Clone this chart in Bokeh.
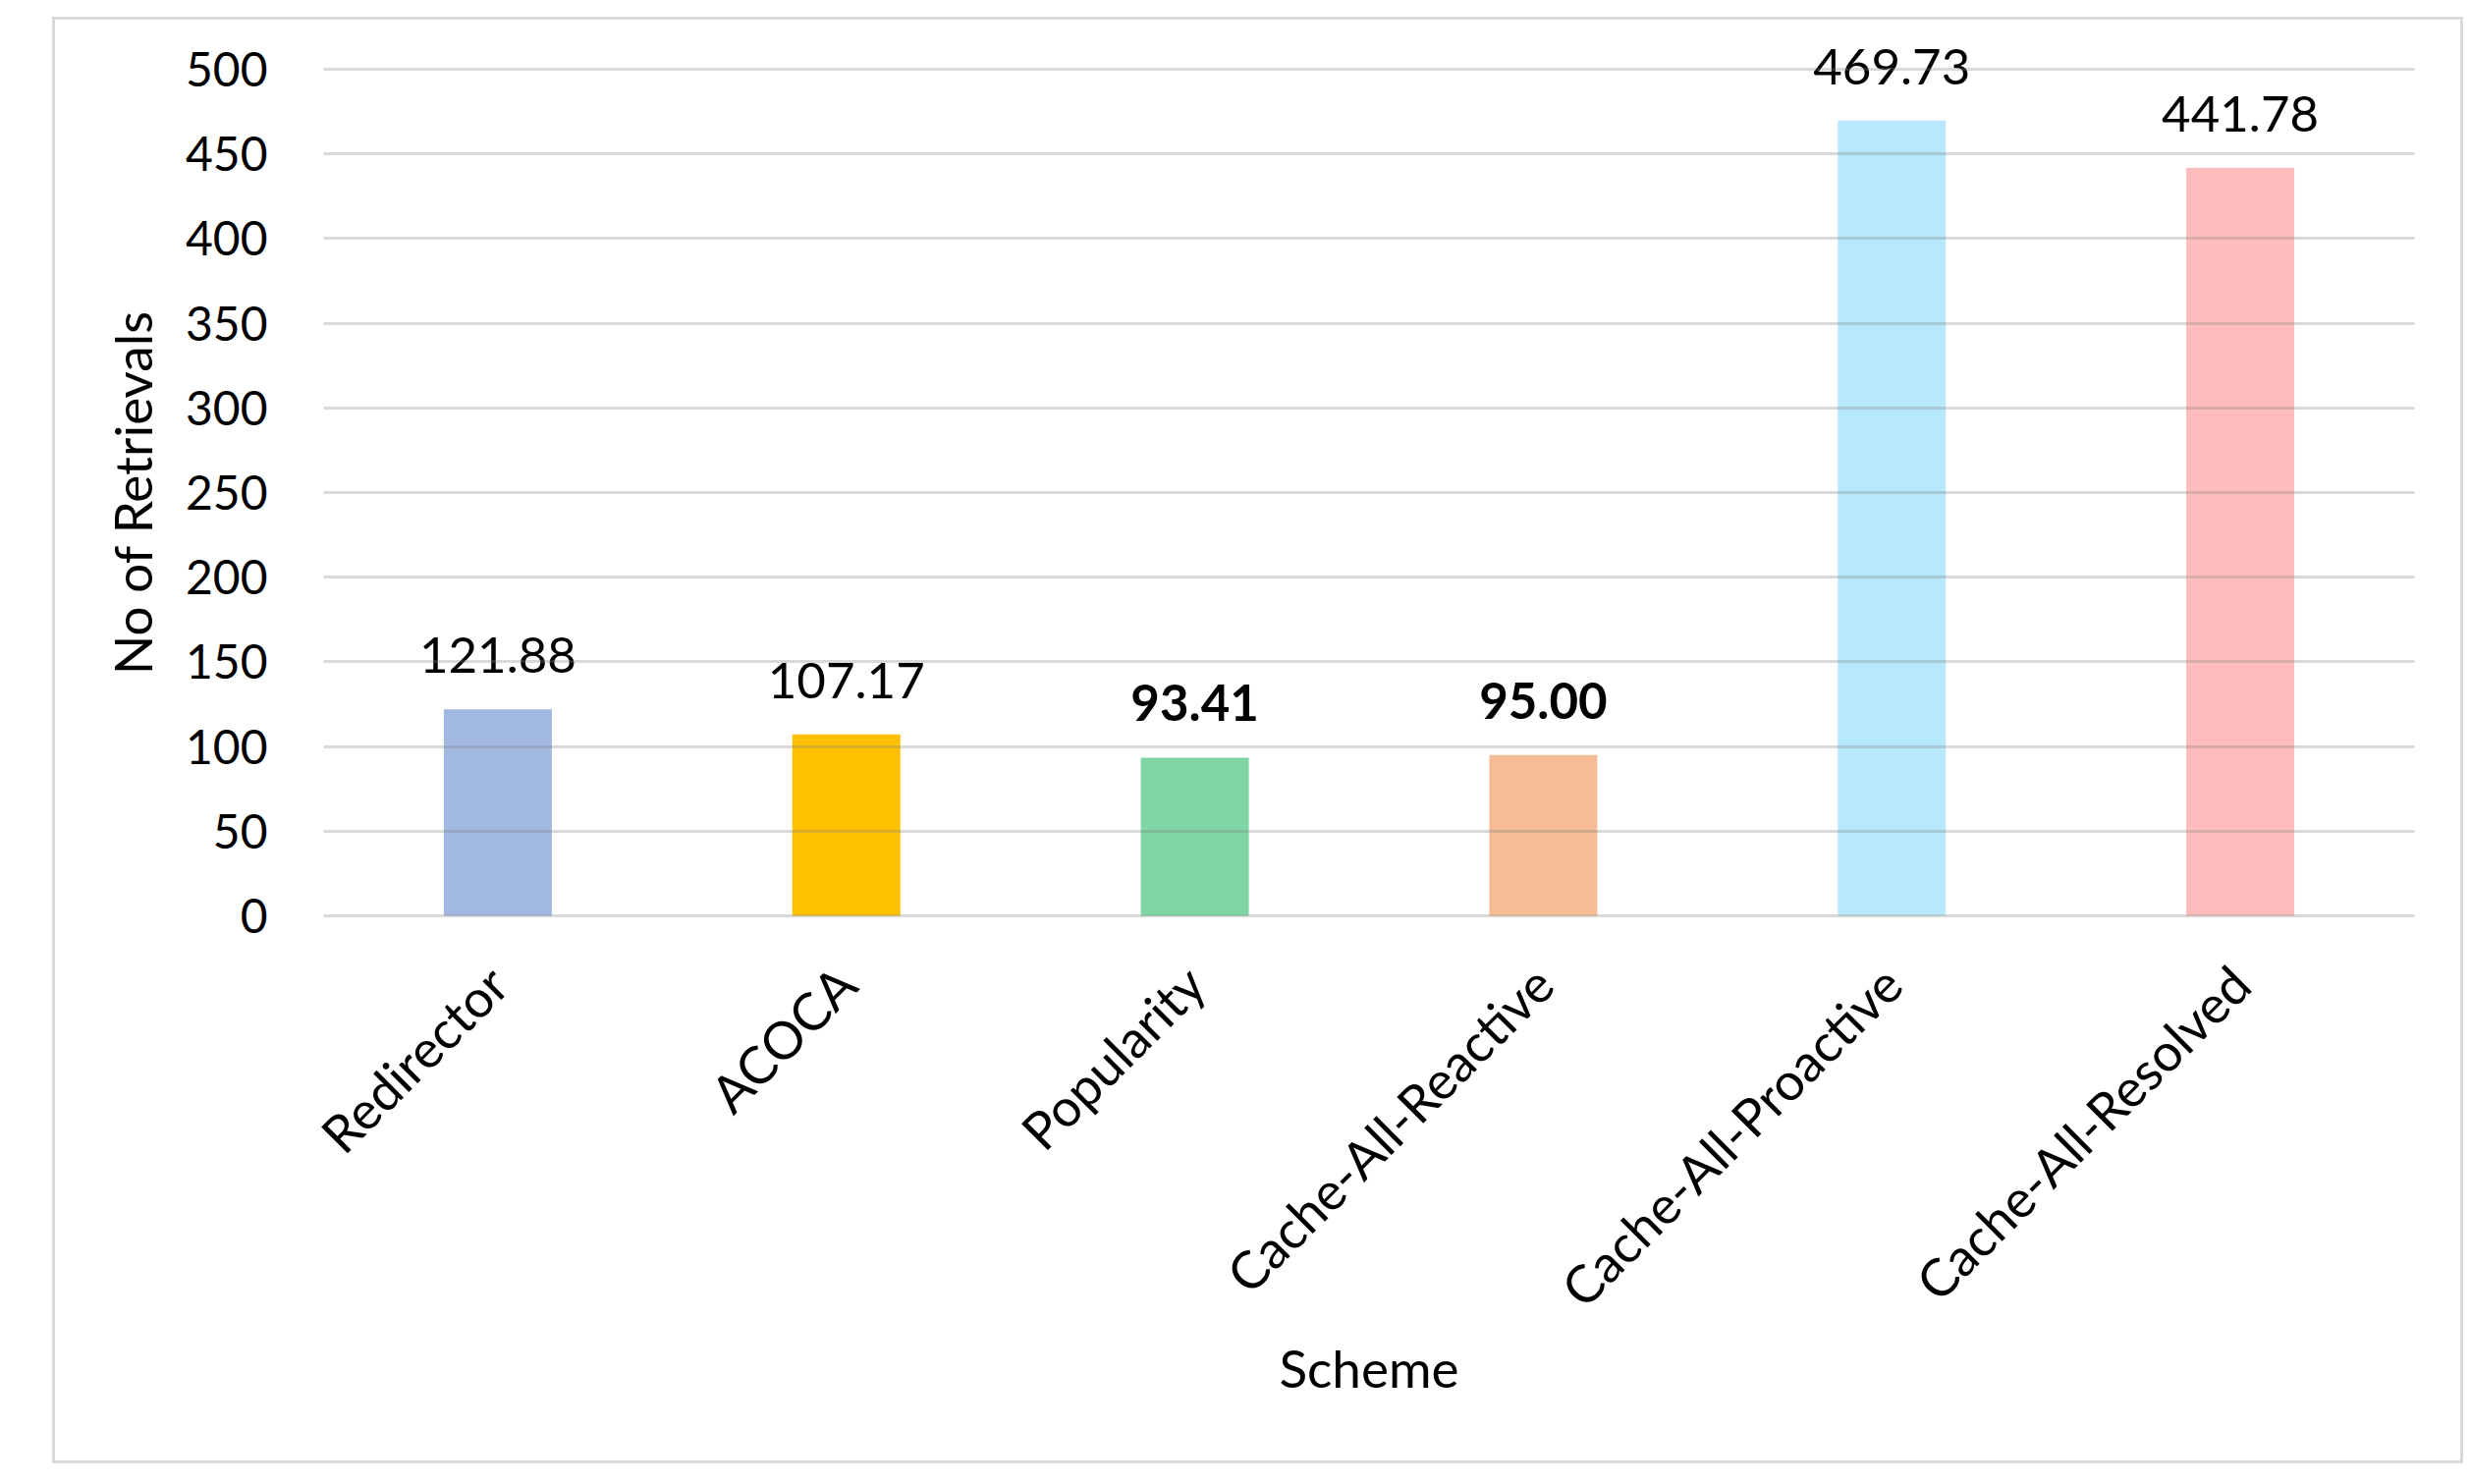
import math
from bokeh.plotting import figure
from bokeh.models import ColumnDataSource, FactorRange, Range1d, FixedTicker, LabelSet
from bokeh.core.properties import value
from bokeh.embed import file_html
from bokeh.resources import INLINE

schemes = ["Redirector", "ACOCA", "Popularity", "Cache-All-Reactive",
           "Cache-All-Proactive", "Cache-All-Resolved"]
retrievals = [121.88, 107.17, 93.41, 95.00, 469.73, 441.78]
y_ticks = [0, 50, 100, 150, 200, 250, 300, 350, 400, 450, 500]

bar_colors = ["#A1B8E1", "#FFC000", "#7FD6A4", "#F5BC96", "#B8E8FB", "#FFBCBC"]
label_styles = ["normal", "normal", "bold", "bold", "normal", "normal"]

FONT = "Lato"
FS_TICK = "48px"
FS_VAL = "51px"
FS_TXT = "53px"

src = ColumnDataSource(dict(
    x=schemes,
    y=retrievals,
    color=bar_colors,
    label=[f"{v:.2f}" for v in retrievals],
    style=label_styles,
))

# The range is padded symmetrically around 0..500 so the value labels above the
# tallest bar are not clipped while the y-axis title stays centred on 0..500.
p = figure(
    x_range=FactorRange(factors=schemes),
    y_range=Range1d(-25, 525),
    width=2455, height=1473,
    output_backend="svg", toolbar_location=None,
    min_border_left=273, min_border_right=53,
    min_border_top=7, min_border_bottom=518,
    x_axis_label="Scheme", y_axis_label="No of Retrievals",
    margin=(17, 0, 0, 53),
    styles={"border": "3px solid #d9d9d9"},
)
p.outline_line_color = None
p.background_fill_color = "white"
p.border_fill_color = "white"

p.vbar(x="x", bottom=0, top="y", width=0.31, fill_color="color",
       line_color=None, source=src)

labels = LabelSet(x="x", y="y", text="label", source=src,
                  text_font=value(FONT), text_font_size=FS_VAL,
                  text_font_style="style",
                  text_align="center", text_baseline="alphabetic",
                  y_offset=37, text_color="#000000")
p.add_layout(labels)

# grid
p.xgrid.visible = False
p.ygrid.ticker = FixedTicker(ticks=y_ticks)
p.ygrid.grid_line_color = "#808080"
p.ygrid.grid_line_alpha = 0.3
p.ygrid.grid_line_width = 3
p.ygrid.level = "overlay"

# y axis
ya = p.yaxis[0]
ya.ticker = FixedTicker(ticks=y_ticks)
ya.axis_line_color = None
ya.major_tick_line_color = None
ya.minor_tick_line_color = None
ya.major_tick_out = 0
ya.major_label_standoff = 57
ya.major_label_text_font = FONT
ya.major_label_text_font_size = FS_TICK
ya.major_label_text_color = "#000000"
ya.axis_label_text_font = FONT
ya.axis_label_text_font_size = FS_TXT
ya.axis_label_text_font_style = "normal"
ya.axis_label_text_color = "#000000"
ya.axis_label_standoff = 20

# x axis
xa = p.xaxis[0]
xa.axis_line_color = None
xa.major_tick_line_color = None
xa.minor_tick_line_color = None
xa.major_tick_out = 0
xa.major_label_orientation = math.pi / 4
xa.major_label_standoff = 17
xa.major_label_text_font = FONT
xa.major_label_text_font_size = FS_TXT
xa.major_label_text_color = "#000000"
xa.axis_label_text_font = FONT
xa.axis_label_text_font_size = FS_TXT
xa.axis_label_text_font_style = "normal"
xa.axis_label_text_color = "#000000"
xa.axis_label_standoff = -7

open("out.html", "w").write(file_html(p, INLINE))
